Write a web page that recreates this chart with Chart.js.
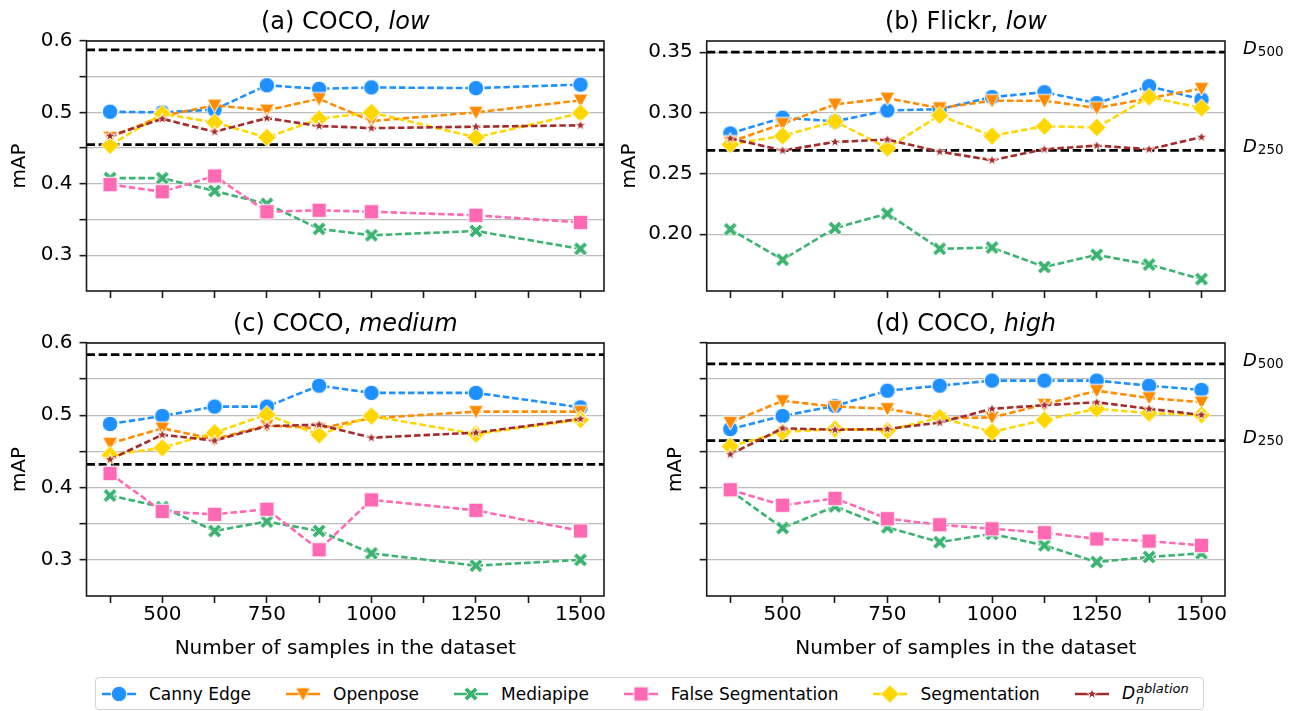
<!DOCTYPE html>
<html>
<head>
<meta charset="utf-8">
<script src="https://cdn.jsdelivr.net/npm/chart.js@4.4.1/dist/chart.umd.min.js"></script>
<style>
  body { margin: 0; background: #fff; width: 1295px; height: 711px; overflow: hidden; position: relative; font-family: "DejaVu Sans", sans-serif; }
  canvas.panel { position: absolute; }
  #legend { position: absolute; left: 95px; top: 677px; width: 1101px; height: 31px; border: 1px solid #d4d4d4; border-radius: 4px;
            display: flex; align-items: center; padding-left: 6px; box-sizing: content-box; font-size: 17px; color: #000; }
  .item { display: flex; align-items: center; margin-right: 35px; white-space: nowrap; }
  .item canvas { margin-right: 13px; }
  .ss { display: inline-flex; flex-direction: column; font-size: 13px; line-height: 11px; vertical-align: middle; font-style: italic; margin-left: 1px; }
</style>
</head>
<body>
<canvas id="pa" class="panel" width="620" height="310" style="left:0;top:0"></canvas>
<canvas id="pb" class="panel" width="680" height="310" style="left:615px;top:0"></canvas>
<canvas id="pc" class="panel" width="620" height="360" style="left:0;top:310px"></canvas>
<canvas id="pd" class="panel" width="680" height="360" style="left:615px;top:310px"></canvas>
<div id="legend"></div>
<script>
// x positions (dataset size)
const cocoX = [375, 500, 625, 750, 875, 1000, 1250, 1500];
const fullX = [375, 500, 625, 750, 875, 1000, 1125, 1250, 1375, 1500];
const xTicks = [375, 500, 625, 750, 875, 1000, 1125, 1250, 1375, 1500];
const xTickLabels = ['', '500', '', '750', '', '1000', '', '1250', '', '1500'];

const seriesNames = ['Canny Edge', 'Openpose', 'Mediapipe', 'False Segmentation', 'Segmentation', 'D_n^ablation'];
const seriesColors = ['#1E90FF', '#FF8C00', '#3CB371', '#FF69B4', '#FFD700', '#A52A2A'];

// (a) COCO, low
const cannyA     = [0.501, 0.500, 0.504, 0.538, 0.533, 0.535, 0.534, 0.539];
const openposeA  = [0.465, 0.495, 0.510, 0.503, 0.519, 0.488, 0.500, 0.517];
const mediapipeA = [0.408, 0.408, 0.390, 0.372, 0.337, 0.328, 0.334, 0.309];
const falseSegA  = [0.399, 0.389, 0.411, 0.361, 0.363, 0.361, 0.356, 0.346];
const segA       = [0.454, 0.498, 0.486, 0.465, 0.491, 0.500, 0.465, 0.499];
const ablA       = [0.467, 0.491, 0.473, 0.492, 0.481, 0.478, 0.480, 0.482];
const refA = [0.5875, 0.455];

// (b) Flickr, low
const cannyB     = [0.283, 0.296, 0.293, 0.302, 0.303, 0.313, 0.317, 0.308, 0.322, 0.311];
const openposeB  = [0.276, 0.291, 0.307, 0.312, 0.304, 0.310, 0.310, 0.304, 0.312, 0.320];
const mediapipeB = [0.204, 0.179, 0.205, 0.217, 0.188, 0.189, 0.173, 0.183, 0.175, 0.163];
const segB       = [0.274, 0.281, 0.293, 0.271, 0.298, 0.281, 0.289, 0.288, 0.313, 0.304];
const ablB       = [0.279, 0.269, 0.276, 0.278, 0.268, 0.261, 0.270, 0.273, 0.270, 0.280];
const refB = [0.350, 0.269];

// (c) COCO, medium
const cannyC     = [0.488, 0.499, 0.512, 0.512, 0.541, 0.531, 0.531, 0.511];
const openposeC  = [0.461, 0.482, 0.467, 0.486, 0.482, 0.496, 0.505, 0.505];
const mediapipeC = [0.389, 0.373, 0.340, 0.353, 0.340, 0.309, 0.292, 0.300];
const falseSegC  = [0.4195, 0.367, 0.363, 0.370, 0.314, 0.383, 0.3685, 0.340];
const segC       = [0.445, 0.455, 0.476, 0.501, 0.473, 0.499, 0.474, 0.494];
const ablC       = [0.439, 0.473, 0.465, 0.485, 0.487, 0.469, 0.476, 0.495];
const refC = [0.584, 0.432];

// (d) COCO, high
const cannyD     = [0.481, 0.499, 0.513, 0.534, 0.541, 0.548, 0.548, 0.548, 0.541, 0.535];
const openposeD  = [0.490, 0.520, 0.512, 0.509, 0.496, 0.497, 0.515, 0.534, 0.524, 0.518];
const mediapipeD = [0.396, 0.344, 0.374, 0.345, 0.3245, 0.336, 0.320, 0.297, 0.304, 0.309];
const falseSegD  = [0.397, 0.3755, 0.385, 0.357, 0.3486, 0.343, 0.3375, 0.329, 0.326, 0.320];
const segD       = [0.457, 0.477, 0.481, 0.479, 0.497, 0.477, 0.4935, 0.509, 0.503, 0.5005];
const ablD       = [0.446, 0.482, 0.480, 0.481, 0.490, 0.509, 0.514, 0.518, 0.509, 0.5005];
const refD = [0.571, 0.465];

const refLabels = ['500', '250'];

const cocoYTicks = [0.3, 0.35, 0.4, 0.45, 0.5, 0.55, 0.6];
const cocoYLabels = ['0.3', '', '0.4', '', '0.5', '', '0.6'];
const flickrYTicks = [0.2, 0.25, 0.3, 0.35];
const flickrYLabels = ['0.20', '0.25', '0.30', '0.35'];

const FONT = '"DejaVu Sans", sans-serif';

// marker images (matplotlib-like filled markers with white edge)
function makeMarker(shape, color, size) {
  const s = Math.ceil(size) + 4;
  const c = document.createElement('canvas');
  c.width = s; c.height = s;
  const g = c.getContext('2d');
  const m = s / 2, r = size / 2;
  g.beginPath();
  if (shape === 'circle') {
    g.arc(m, m, r, 0, Math.PI * 2);
  } else if (shape === 'triDown') {
    g.moveTo(m - r, m - r * 0.85); g.lineTo(m + r, m - r * 0.85); g.lineTo(m, m + r); g.closePath();
  } else if (shape === 'square') {
    g.rect(m - r, m - r, 2 * r, 2 * r);
  } else if (shape === 'diamond') {
    g.moveTo(m, m - r); g.lineTo(m + r, m); g.lineTo(m, m + r); g.lineTo(m - r, m); g.closePath();
  } else if (shape === 'x') {
    const L = r / (1.3 * Math.SQRT1_2), t = 0.3 * L;
    const pts = [[t, L], [t, t], [L, t], [L, -t], [t, -t], [t, -L], [-t, -L], [-t, -t], [-L, -t], [-L, t], [-t, t], [-t, L]];
    pts.forEach(([px, py], i) => {
      const rx = (px - py) * Math.SQRT1_2, ry = (px + py) * Math.SQRT1_2;
      if (i === 0) g.moveTo(m + rx, m + ry); else g.lineTo(m + rx, m + ry);
    });
    g.closePath();
  } else if (shape === 'star') {
    for (let i = 0; i < 10; i++) {
      const rad = i % 2 === 0 ? r : r * 0.382;
      const a = -Math.PI / 2 + i * Math.PI / 5;
      const px = m + rad * Math.cos(a), py = m + rad * Math.sin(a);
      if (i === 0) g.moveTo(px, py); else g.lineTo(px, py);
    }
    g.closePath();
  }
  g.fillStyle = color; g.fill();
  g.strokeStyle = '#fff'; g.lineWidth = 1; g.stroke();
  return c;
}

const markerShapes = ['circle', 'triDown', 'x', 'square', 'diamond', 'star'];
const markerSizes = [15.5, 15, 14, 14.5, 18.5, 12];
const markers = markerShapes.map((sh, i) => makeMarker(sh, seriesColors[i], markerSizes[i]));

function makeDatasets(xs, series) {
  const out = [];
  series.forEach((vals, i) => {
    if (!vals) return;
    out.push({
      label: seriesNames[i],
      data: xs.map((x, j) => ({ x: x, y: vals[j] })),
      borderColor: seriesColors[i],
      backgroundColor: seriesColors[i],
      borderWidth: 2.6,
      borderDash: [6.5, 3],
      pointStyle: markers[i],
      pointRadius: 8,
      pointHoverRadius: 8,
      tension: 0,
      fill: false,
      order: 10 - i
    });
  });
  return out;
}

const deco = {
  id: 'deco',
  beforeDatasetsDraw(chart, args, o) {
    const { ctx, chartArea: a } = chart;
    const ys = chart.scales.y;
    ctx.save();
    ctx.strokeStyle = '#000';
    ctx.lineWidth = 2.7;
    ctx.setLineDash([8.5, 3.7]);
    o.refs.forEach(v => {
      const py = ys.getPixelForValue(v);
      ctx.beginPath(); ctx.moveTo(a.left, py); ctx.lineTo(a.right, py); ctx.stroke();
    });
    ctx.restore();
  },
  afterDatasetsDraw(chart) {
    const { ctx, chartArea: a } = chart;
    ctx.save();
    ctx.strokeStyle = '#1a1a1a';
    ctx.lineWidth = 1.6;
    ctx.strokeRect(a.left, a.top, a.right - a.left, a.bottom - a.top);
    ctx.restore();
  },
  afterDraw(chart, args, o) {
    const { ctx, chartArea: a } = chart;
    ctx.save();
    ctx.fillStyle = '#000';
    ctx.textBaseline = 'alphabetic';
    ctx.textAlign = 'left';
    const f1 = '24px ' + FONT, f2 = 'italic 24px ' + FONT;
    ctx.font = f1; const w1 = ctx.measureText(o.title).width;
    ctx.font = f2; const w2 = ctx.measureText(o.titleItalic).width;
    const x0 = (a.left + a.right) / 2 - (w1 + w2) / 2;
    const by = a.top - 12;
    ctx.font = f1; ctx.fillText(o.title, x0, by);
    ctx.font = f2; ctx.fillText(o.titleItalic, x0 + w1, by);
    if (o.showRefLabels) {
      const ys = chart.scales.y;
      o.refs.forEach((v, i) => {
        const py = ys.getPixelForValue(v) + 2;
        const x = a.right + 18;
        ctx.font = 'italic 18px ' + FONT;
        ctx.fillText('D', x, py);
        const wd = ctx.measureText('D').width;
        ctx.font = '13.5px ' + FONT;
        ctx.fillText(refLabels[i], x + wd + 1, py + 2);
      });
    }
    ctx.restore();
  }
};

function yScale(ticks, labels, min, max, width, titlePad) {
  return {
    type: 'linear', min: min, max: max,
    afterBuildTicks: s => { s.ticks = ticks.map(v => ({ value: v })); },
    afterFit: s => { s.width = width; },
    ticks: { callback: (v, i) => labels[i], font: { family: FONT, size: 20 }, color: '#000', padding: 7 },
    grid: { color: '#bcbcbc', lineWidth: 1.3, tickColor: '#1a1a1a', tickLength: 7, tickWidth: 1.6 },
    border: { display: false },
    title: { display: true, text: 'mAP', font: { family: FONT, size: 20 }, color: '#000', padding: { top: titlePad, bottom: 0 } }
  };
}

function xScale(height, withLabels) {
  return {
    type: 'linear', min: 318.75, max: 1556.25,
    afterBuildTicks: s => { s.ticks = xTicks.map(v => ({ value: v })); },
    afterFit: s => { s.height = height; },
    ticks: { callback: (v, i) => withLabels ? xTickLabels[i] : '', autoSkip: false, maxRotation: 0,
             font: { family: FONT, size: 20 }, color: '#000', padding: 0 },
    grid: { drawOnChartArea: false, tickColor: '#1a1a1a', tickLength: 7, tickWidth: 1.6 },
    border: { display: false },
    title: { display: withLabels, text: 'Number of samples in the dataset', font: { family: FONT, size: 20 },
             color: '#000', padding: { top: 0, bottom: 9 } }
  };
}

function makePanel(id, xs, series, opt) {
  new Chart(document.getElementById(id), {
    type: 'line',
    data: { datasets: makeDatasets(xs, series) },
    options: {
      responsive: false,
      animation: false,
      events: [],
      layout: { padding: { top: opt.padTop, right: opt.padRight, bottom: 0, left: 0 } },
      scales: {
        x: xScale(opt.xHeight, opt.xLabels),
        y: yScale(opt.yTicks, opt.yLabels, opt.yMin, opt.yMax, opt.yWidth, opt.yTitlePad)
      },
      plugins: {
        legend: { display: false },
        tooltip: { enabled: false },
        deco: { title: opt.title, titleItalic: opt.titleItalic, refs: opt.refs, showRefLabels: opt.showRefLabels }
      }
    },
    plugins: [deco]
  });
}

makePanel('pa', cocoX, [cannyA, openposeA, mediapipeA, falseSegA, segA, ablA], {
  padTop: 41, padRight: 16, xHeight: 16.5, xLabels: false,
  yTicks: cocoYTicks, yLabels: cocoYLabels, yMin: 0.25, yMax: 0.6, yWidth: 86.5, yTitlePad: 8,
  title: '(a) COCO, ', titleItalic: 'low', refs: refA, showRefLabels: false
});
makePanel('pb', fullX, [cannyB, openposeB, mediapipeB, null, segB, ablB], {
  padTop: 41, padRight: 70, xHeight: 16.5, xLabels: false,
  yTicks: flickrYTicks, yLabels: flickrYLabels, yMin: 0.1532, yMax: 0.3592, yWidth: 91.7, yTitlePad: 3,
  title: '(b) Flickr, ', titleItalic: 'low', refs: refB, showRefLabels: true
});
makePanel('pc', cocoX, [cannyC, openposeC, mediapipeC, falseSegC, segC, ablC], {
  padTop: 33, padRight: 16, xHeight: 74, xLabels: true,
  yTicks: cocoYTicks, yLabels: cocoYLabels, yMin: 0.25, yMax: 0.6, yWidth: 86.5, yTitlePad: 8,
  title: '(c) COCO, ', titleItalic: 'medium', refs: refC, showRefLabels: false
});
makePanel('pd', fullX, [cannyD, openposeD, mediapipeD, falseSegD, segD, ablD], {
  padTop: 33, padRight: 70, xHeight: 74, xLabels: true,
  yTicks: cocoYTicks, yLabels: cocoYTicks.map(() => ''), yMin: 0.25, yMax: 0.6, yWidth: 91.7, yTitlePad: 49,
  title: '(d) COCO, ', titleItalic: 'high', refs: refD, showRefLabels: true
});

// legend
const legend = document.getElementById('legend');
seriesNames.forEach((name, i) => {
  const item = document.createElement('div');
  item.className = 'item';
  const h = document.createElement('canvas');
  h.width = 34; h.height = 22;
  const g = h.getContext('2d');
  g.strokeStyle = seriesColors[i]; g.lineWidth = 2.6;
  g.beginPath(); g.moveTo(0, 11); g.lineTo(34, 11); g.stroke();
  const mk = markers[i];
  g.drawImage(mk, 17 - mk.width / 2, 11 - mk.height / 2);
  item.appendChild(h);
  const label = document.createElement('span');
  if (name === 'D_n^ablation') {
    label.innerHTML = '<i>D</i><span class="ss"><span>ablation</span><span>n</span></span>';
  } else {
    label.textContent = name;
  }
  item.appendChild(label);
  legend.appendChild(item);
});
</script>
</body>
</html>
